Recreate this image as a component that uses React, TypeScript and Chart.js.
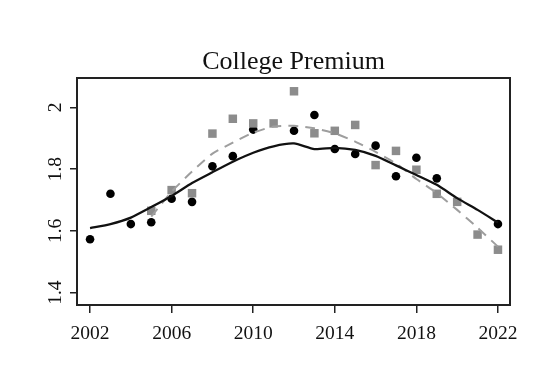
import React, { useEffect, useRef } from "react";
import { Chart, registerables } from "chart.js";

Chart.register(...registerables);

const chartTitle = "College Premium";

const circleYears = [2002, 2003, 2004, 2005, 2006, 2007, 2008, 2009, 2010, 2012, 2013, 2014, 2015, 2016, 2017, 2018, 2019, 2022];
const circleValues = [1.573, 1.72, 1.622, 1.628, 1.704, 1.694, 1.809, 1.842, 1.928, 1.924, 1.975, 1.865, 1.849, 1.876, 1.777, 1.837, 1.77, 1.622];

const squareYears = [2005, 2006, 2007, 2008, 2009, 2010, 2011, 2012, 2013, 2014, 2015, 2016, 2017, 2018, 2019, 2020, 2021, 2022];
const squareValues = [1.665, 1.732, 1.722, 1.915, 1.963, 1.948, 1.948, 2.052, 1.916, 1.924, 1.943, 1.813, 1.859, 1.798, 1.72, 1.694, 1.588, 1.539];

const solidYears = [2002, 2003, 2004, 2005, 2006, 2007, 2008, 2009, 2010, 2011, 2012, 2013, 2014, 2015, 2016, 2017, 2018, 2019, 2020, 2021, 2022];
const solidValues = [1.609, 1.622, 1.643, 1.677, 1.713, 1.755, 1.79, 1.824, 1.853, 1.874, 1.883, 1.865, 1.869, 1.862, 1.843, 1.812, 1.781, 1.749, 1.706, 1.668, 1.627];

const dashedYears = [2005, 2006, 2007, 2008, 2009, 2010, 2011, 2012, 2013, 2014, 2015, 2016, 2017, 2018, 2019, 2020, 2021, 2022];
const dashedValues = [1.646, 1.727, 1.792, 1.85, 1.886, 1.918, 1.938, 1.94, 1.932, 1.916, 1.889, 1.856, 1.818, 1.768, 1.722, 1.668, 1.61, 1.549];

const xTicks = [2002, 2006, 2010, 2014, 2018, 2022];
const yTicks = [1.4, 1.6, 1.8, 2];

const FONT = "'Liberation Serif', 'Times New Roman', serif";
const INK = "#111111";
const GREY = "#8c8c8c";

const toPoints = (xs: number[], ys: number[]) => xs.map((x, i) => ({ x, y: ys[i] }));

const boxAndTitle = {
  id: "boxAndTitle",
  afterDraw(chart: any) {
    const { ctx, chartArea } = chart;
    ctx.save();
    ctx.strokeStyle = "#222222";
    ctx.lineWidth = 2;
    ctx.strokeRect(chartArea.left, chartArea.top, chartArea.right - chartArea.left, chartArea.bottom - chartArea.top);
    ctx.fillStyle = INK;
    ctx.font = `26px ${FONT}`;
    ctx.textAlign = "center";
    ctx.textBaseline = "alphabetic";
    ctx.fillText(chartTitle, (chartArea.left + chartArea.right) / 2, 69);
    ctx.restore();
  },
};

export default function App() {
  const canvasRef = useRef<HTMLCanvasElement | null>(null);

  useEffect(() => {
    if (!canvasRef.current) return;
    const chart = new Chart(canvasRef.current, {
      type: "scatter",
      data: {
        datasets: [
          {
            data: toPoints(solidYears, solidValues),
            showLine: true,
            borderColor: INK,
            borderWidth: 2.3,
            pointRadius: 0,
            tension: 0.2,
            order: 0,
          },
          {
            data: toPoints(dashedYears, dashedValues),
            showLine: true,
            borderColor: "#9e9e9e",
            borderWidth: 2,
            borderDash: [10, 7],
            pointRadius: 0,
            tension: 0.2,
            order: 1,
          },
          {
            data: toPoints(squareYears, squareValues),
            pointStyle: "rect",
            pointRadius: 6,
            backgroundColor: GREY,
            borderWidth: 0,
            order: 2,
          },
          {
            data: toPoints(circleYears, circleValues),
            pointStyle: "circle",
            pointRadius: 4.3,
            backgroundColor: "#000000",
            borderWidth: 0,
            order: 3,
          },
        ],
      },
      options: {
        responsive: false,
        animation: false,
        events: [],
        layout: { padding: { top: 78, right: 42, bottom: 0, left: 0 } },
        plugins: {
          legend: { display: false },
          title: { display: false },
          tooltip: { enabled: false },
        },
        scales: {
          x: {
            type: "linear",
            min: 2001.36,
            max: 2022.59,
            afterBuildTicks: (scale: any) => {
              scale.ticks = xTicks.map((v) => ({ value: v }));
            },
            afterFit: (scale: any) => {
              scale.height = 76;
            },
            border: { display: false },
            grid: { drawOnChartArea: false, drawTicks: true, tickLength: 8, color: "#222222", lineWidth: 1.5 },
            ticks: {
              padding: 9.5,
              color: INK,
              font: { family: FONT, size: 19.5 },
              maxRotation: 0,
              minRotation: 0,
              callback: (v: any) => String(v),
            },
          },
          y: {
            type: "linear",
            min: 1.36,
            max: 2.095,
            afterBuildTicks: (scale: any) => {
              scale.ticks = yTicks.map((v) => ({ value: v }));
            },
            afterFit: (scale: any) => {
              scale.width = 77;
            },
            border: { display: false },
            grid: { drawOnChartArea: false, drawTicks: true, tickLength: 7, color: "#222222", lineWidth: 1.5 },
            ticks: {
              padding: 1.5,
              color: INK,
              font: { family: FONT, size: 19.5 },
              minRotation: 90,
              maxRotation: 90,
              crossAlign: "center",
              callback: (v: any) => String(v),
            },
          },
        },
      },
      plugins: [boxAndTitle],
    } as any);
    return () => chart.destroy();
  }, []);

  return (
    <div style={{ position: "absolute", left: 0, top: 0, width: 552, height: 381, background: "#ffffff" }}>
      <canvas ref={canvasRef} width={552} height={381} style={{ display: "block", width: 552, height: 381 }} />
    </div>
  );
}
